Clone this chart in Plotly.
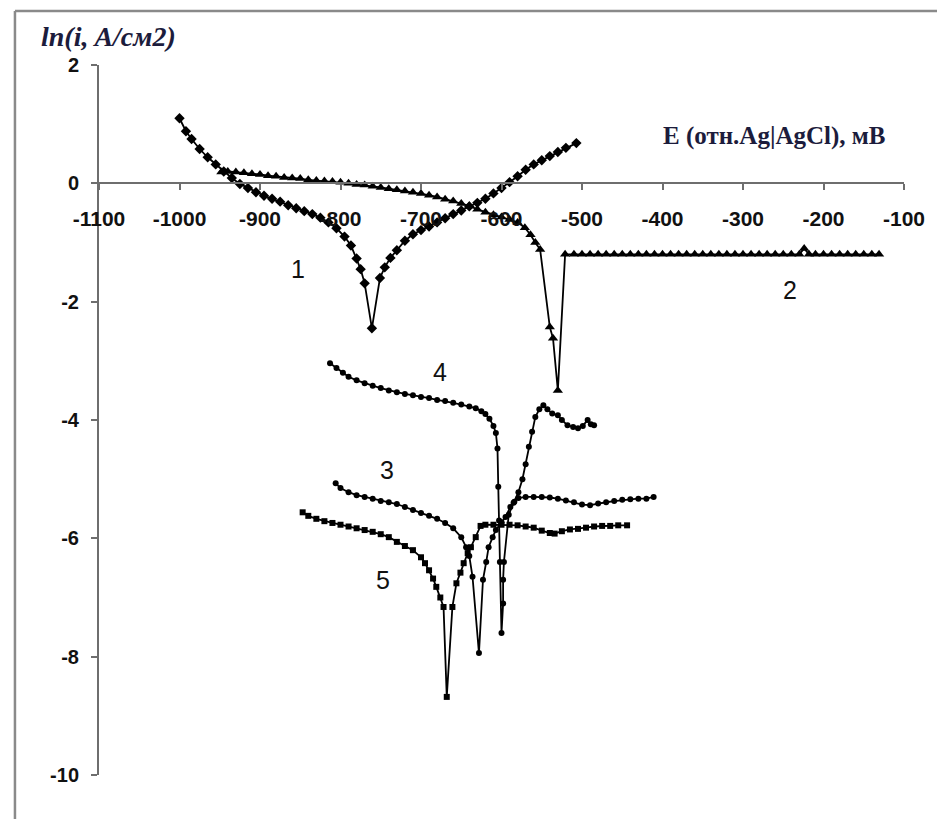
import plotly.graph_objects as go

# Polarization curves: ln(i) vs potential E (mV vs Ag|AgCl)

# Curve 1 (diamonds)
e1 = [-1000, -992, -985, -975, -965, -955, -945, -935, -925, -915, -905, -895,
      -885, -875, -865, -855, -845, -835, -825, -815, -805, -795, -787, -780,
      -775, -770, -761, -751, -745, -738, -730, -720, -710, -700, -690, -680,
      -670, -660, -650, -640, -630, -620, -610, -600, -590, -580, -570, -560,
      -550, -540, -530, -520, -507]
ln1 = [1.10, 0.88, 0.75, 0.58, 0.44, 0.32, 0.20, 0.09, -0.01, -0.08, -0.15, -0.21,
       -0.26, -0.31, -0.37, -0.42, -0.47, -0.52, -0.58, -0.66, -0.76, -0.90, -1.05, -1.27,
       -1.45, -1.69, -2.45, -1.60, -1.42, -1.26, -1.13, -0.97, -0.86, -0.79, -0.73, -0.66,
       -0.59, -0.52, -0.46, -0.39, -0.33, -0.26, -0.17, -0.08, 0.02, 0.12, 0.23, 0.32,
       0.39, 0.46, 0.53, 0.60, 0.68]

# Curve 2 (triangles)
e2 = [-948, -940, -930, -920, -910, -900, -890, -880, -870, -860, -850, -840,
      -830, -820, -810, -800, -790, -780, -770, -760, -750, -740, -730, -720,
      -710, -700, -690, -680, -670, -660, -650, -640, -630, -620, -610, -600,
      -590, -580, -571, -564, -558, -552, -540, -536, -530, -521, -510, -500,
      -490, -480, -470, -460, -450, -440, -430, -420, -410, -400, -390, -380,
      -370, -360, -350, -340, -330, -320, -310, -300, -290, -280, -270, -260,
      -250, -240, -230, -224, -218, -210, -200, -190, -180, -170, -160, -150,
      -140, -131]
ln2 = [0.19, 0.20, 0.19, 0.18, 0.16, 0.15, 0.13, 0.12, 0.10, 0.09, 0.08, 0.06,
       0.05, 0.04, 0.03, 0.02, 0.00, -0.02, -0.03, -0.05, -0.07, -0.09, -0.11, -0.13,
       -0.15, -0.17, -0.20, -0.23, -0.27, -0.30, -0.34, -0.38, -0.44, -0.49, -0.53, -0.57,
       -0.61, -0.66, -0.75, -0.87, -1.00, -1.12, -2.43, -2.62, -3.50, -1.20, -1.20, -1.20,
       -1.20, -1.20, -1.20, -1.20, -1.20, -1.20, -1.20, -1.20, -1.20, -1.20, -1.20, -1.20,
       -1.20, -1.20, -1.20, -1.20, -1.20, -1.20, -1.20, -1.20, -1.20, -1.20, -1.20, -1.20,
       -1.20, -1.20, -1.20, -1.10, -1.20, -1.20, -1.20, -1.20, -1.20, -1.20, -1.20, -1.20,
       -1.20, -1.20]

# Curve 3 (dots)
e3 = [-806, -800, -790, -780, -770, -760, -750, -740, -730, -720, -710, -700,
      -690, -680, -670, -660, -650, -644, -640, -636, -628, -623, -619, -616,
      -611, -607, -600, -595, -589, -584, -579, -570, -560, -550, -540, -530,
      -520, -510, -500, -490, -480, -470, -460, -450, -440, -430, -420, -411]
ln3 = [-5.07, -5.15, -5.22, -5.27, -5.30, -5.33, -5.37, -5.39, -5.42, -5.47, -5.52, -5.57,
       -5.62, -5.67, -5.74, -5.83, -5.98, -6.15, -6.30, -6.65, -7.94, -6.70, -6.40, -6.15,
       -5.98, -5.86, -5.73, -5.64, -5.47, -5.38, -5.32, -5.30, -5.30, -5.30, -5.31, -5.33,
       -5.36, -5.39, -5.43, -5.44, -5.41, -5.39, -5.37, -5.35, -5.34, -5.33, -5.33, -5.30]

# Curve 4 (dots)
e4 = [-813, -805, -797, -790, -780, -770, -760, -750, -740, -730, -720, -710,
      -700, -690, -680, -670, -660, -650, -640, -632, -625, -620, -615, -610,
      -607, -605, -604, -603, -602, -600, -598, -598, -597, -591, -585, -579,
      -574, -570, -566, -562, -558, -553, -548, -543, -537, -530, -525, -518,
      -511, -505, -499, -493, -489, -485]
ln4 = [-3.04, -3.12, -3.20, -3.27, -3.33, -3.38, -3.42, -3.46, -3.50, -3.53, -3.56, -3.58,
       -3.61, -3.63, -3.66, -3.68, -3.71, -3.74, -3.77, -3.80, -3.85, -3.90, -3.98, -4.10,
       -4.22, -4.48, -5.13, -5.70, -6.40, -7.60, -7.10, -6.70, -6.40, -5.60, -5.40, -5.22,
       -5.00, -4.75, -4.45, -4.20, -3.95, -3.82, -3.75, -3.82, -3.89, -3.92, -4.00, -4.09,
       -4.12, -4.14, -4.10, -4.00, -4.07, -4.09]

# Curve 5 (squares)
e5 = [-847, -840, -830, -820, -810, -800, -790, -780, -770, -760, -750, -740,
      -730, -720, -710, -700, -695, -690, -685, -681, -676, -672, -668, -661,
      -656, -651, -647, -642, -638, -632, -626, -620, -610, -600, -590, -580,
      -570, -560, -550, -540, -534, -525, -515, -505, -495, -485, -475, -465,
      -455, -444]
ln5 = [-5.56, -5.62, -5.67, -5.71, -5.74, -5.77, -5.80, -5.83, -5.86, -5.89, -5.93, -5.98,
       -6.06, -6.13, -6.20, -6.32, -6.42, -6.54, -6.68, -6.82, -7.00, -7.16, -8.68, -7.16,
       -6.76, -6.58, -6.42, -6.25, -6.15, -5.98, -5.79, -5.77, -5.77, -5.77, -5.77, -5.78,
       -5.80, -5.82, -5.87, -5.91, -5.92, -5.88, -5.85, -5.84, -5.82, -5.80, -5.79, -5.79,
       -5.78, -5.78]

curve_names = ["1", "2", "3", "4", "5"]
label_e = [-853, -242, -742, -676, -747]
label_ln = [-1.44, -1.81, -4.85, -3.19, -6.70]

x_tickvals = [-1100, -1000, -900, -800, -700, -600, -500, -400, -300, -200, -100]
x_ticktext = ["-1100", "-1000", "-900", "-800", "-700", "-600", "-500", "-400", "-300", "-200", "-100"]
y_tickvals = [2, 0, -2, -4, -6, -8, -10]
y_ticktext = ["2", "0", "-2", "-4", "-6", "-8", "-10"]

series = [
    (e1, ln1, "diamond", 8),
    (e2, ln2, "triangle-up", 9),
    (e3, ln3, "circle", 6),
    (e4, ln4, "circle", 6),
    (e5, ln5, "square", 6),
]

fig = go.Figure()
for (xs, ys, sym, size), name in zip(series, curve_names):
    fig.add_trace(go.Scatter(
        x=xs, y=ys, name=name, mode="lines+markers",
        line=dict(color="black", width=1.8),
        marker=dict(symbol=sym, size=size, color="black"),
        showlegend=False,
    ))

for name, ex, ey in zip(curve_names, label_e, label_ln):
    fig.add_annotation(x=ex, y=ey, xref="x", yref="y", text=name, showarrow=False,
                       font=dict(family="Liberation Sans, Arial, sans-serif", size=25, color="#111"))

axis_col = "#6e6e6e"
x_tick_font = dict(family="Liberation Sans, Arial, sans-serif", size=21, color="#111", weight="bold")
y_tick_font = dict(family="Liberation Sans, Arial, sans-serif", size=20, color="#111", weight="bold")

fig.update_xaxes(
    range=[-1100, -100], tickvals=x_tickvals, ticktext=x_ticktext,
    showline=True, linecolor=axis_col, linewidth=2,
    ticks="outside", ticklen=6, tickcolor=axis_col, tickwidth=2,
    anchor="free", position=10 / 12,
    showgrid=False, zeroline=False,
    tickfont=x_tick_font, ticklabelstandoff=10,
)
fig.update_yaxes(
    range=[-10, 2], tickvals=y_tickvals, ticktext=y_ticktext,
    showline=True, linecolor=axis_col, linewidth=2,
    ticks="outside", ticklen=6, tickcolor=axis_col, tickwidth=2,
    showgrid=False, zeroline=False,
    tickfont=y_tick_font, ticklabelstandoff=8,
)

# axis titles
fig.add_annotation(xref="paper", yref="paper", x=-0.075, y=1.04, xanchor="left", yanchor="middle",
                   text="<b><i>ln(i, A/см2)</i></b>", showarrow=False,
                   font=dict(family="Liberation Serif, Times New Roman, serif", size=28, color="#1c1c3c"))
fig.add_annotation(xref="paper", yref="paper", x=0.98, y=0.9, xanchor="right", yanchor="middle",
                   text="<b>E (отн.Ag|AgCl), мВ</b>", showarrow=False,
                   font=dict(family="Liberation Serif, Times New Roman, serif", size=25, color="#1c1c3c"))

# outer frame (top and left edges)
fig.add_shape(type="line", xref="paper", yref="paper", x0=-0.1044, y0=1.076, x1=1.05, y1=1.076,
              line=dict(color="#8a8a8a", width=2.5))
fig.add_shape(type="line", xref="paper", yref="paper", x0=-0.1044, y0=1.076, x1=-0.1044, y1=-0.1,
              line=dict(color="#8a8a8a", width=2.5))

fig.update_layout(
    width=937, height=819,
    margin=dict(l=99, r=24, t=65, b=44),
    paper_bgcolor="white", plot_bgcolor="white",
)

fig.write_html("out.html")
